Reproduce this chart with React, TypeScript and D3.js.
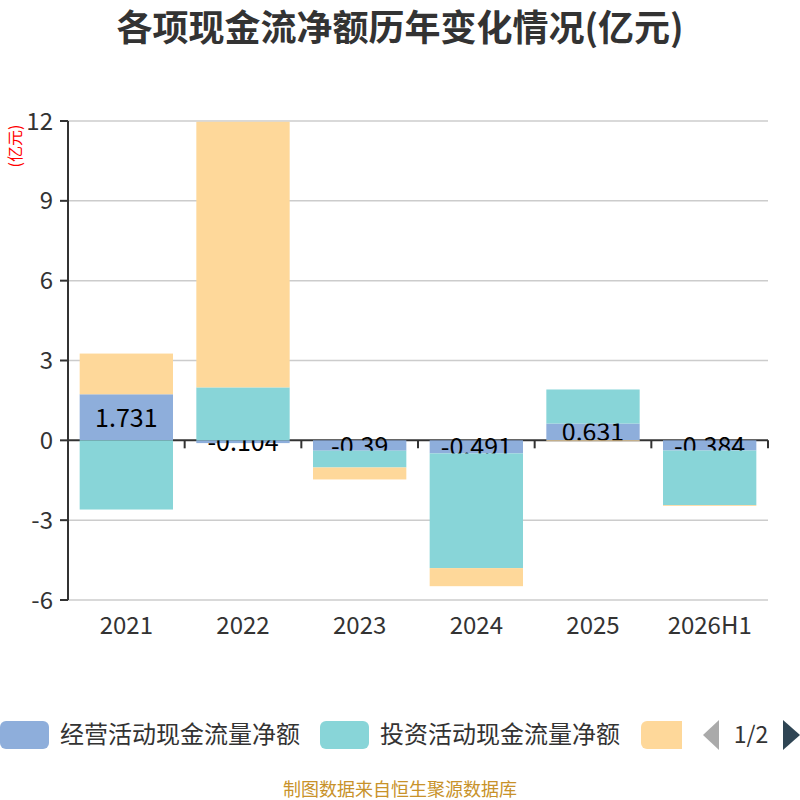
import { scaleLinear, scaleBand } from 'd3'

const YEARS = ['2021', '2022', '2023', '2024', '2025', '2026H1']
const SERIES_NAMES = ['经营活动现金流量净额', '投资活动现金流量净额', '筹资活动现金流量净额']
const OPERATING = [1.731, -0.104, -0.39, -0.491, 0.631, -0.384]
const INVESTING = [-2.6, 1.99, -0.63, -4.31, 1.28, -2.05]
const FINANCING = [1.53, 9.98, -0.45, -0.68, -0.03, -0.02]
const Y_TICKS = [-6, -3, 0, 3, 6, 9, 12]
const COLORS = ['#8eaedb', '#88d5d8', '#fed89a']

const FONT = '"Noto Sans CJK SC", "Noto Sans", sans-serif'

export default function App(): JSX.Element {
  const width = 800
  const height = 800
  const margin = { top: 121, right: 32, bottom: 200, left: 68 }
  const innerWidth = width - margin.left - margin.right
  const innerHeight = height - margin.top - margin.bottom

  const xScale = scaleBand().domain(YEARS).range([0, innerWidth])
  const barWidth = xScale.bandwidth() * 0.8
  const yScale = scaleLinear().domain([-6, 12]).range([innerHeight, 0])

  // stack positive and negative values separately, like echarts does
  const all = [OPERATING, INVESTING, FINANCING]
  const posBase = YEARS.map(() => 0)
  const negBase = YEARS.map(() => 0)
  const segments = all.map((values) =>
    values.map((v, i) => {
      let y0: number, y1: number
      if (v >= 0) {
        y0 = posBase[i]
        y1 = y0 + v
        posBase[i] = y1
      } else {
        y0 = negBase[i]
        y1 = y0 + v
        negBase[i] = y1
      }
      return { year: YEARS[i], v, y0, y1 }
    })
  )

  const barX = (d: string) => xScale(d)! + (xScale.bandwidth() - barWidth) / 2

  const renderBars = (k: number) =>
    segments[k].map((s, i) => {
      const top = yScale(Math.max(s.y0, s.y1))
      const bottom = yScale(Math.min(s.y0, s.y1))
      return (
        <rect
          key={`b${k}-${i}`}
          x={barX(s.year)}
          y={top}
          width={barWidth}
          height={Math.max(bottom - top, 0.8)}
          fill={COLORS[k]}
        />
      )
    })

  return (
    <svg
      width={width}
      height={height}
      style={{ display: 'block', position: 'absolute', left: 0, top: 0 }}
      fontFamily={FONT}
    >
      <rect width={width} height={height} fill='#fff' />

      {/* Title */}
      <text
        x={400}
        y={41}
        textAnchor='middle'
        fontSize={36}
        fontWeight='bold'
        fill='#333'
      >
        各项现金流净额历年变化情况(亿元)
      </text>

      {/* Y axis name */}
      <text
        transform='translate(21, 146) rotate(-90)'
        textAnchor='middle'
        fontSize={16}
        fill='#ff0000'
      >
        (亿元)
      </text>

      <g transform={`translate(${margin.left}, ${margin.top})`}>
        {/* Grid lines + Y ticks */}
        {Y_TICKS.map((t) => (
          <g key={t} transform={`translate(0, ${yScale(t)})`}>
            {t !== 0 && <line x2={innerWidth} stroke='#ccc' strokeWidth={1.5} />}
            <line x1={-8} x2={0} stroke='#333' strokeWidth={2} />
            <text
              x={-15}
              dy='0.36em'
              textAnchor='end'
              fontSize={24}
              fill='#333'
            >
              {t}
            </text>
          </g>
        ))}

        {/* Y axis line */}
        <line y2={innerHeight} stroke='#333' strokeWidth={2} />

        {/* X axis at zero */}
        <line y1={yScale(0)} y2={yScale(0)} x2={innerWidth} stroke='#333' strokeWidth={2} />
        {YEARS.concat(['']).map((d, i) => {
          const x = i < YEARS.length ? xScale(d)! : innerWidth
          return (
            <line
              key={`t${i}`}
              x1={x}
              x2={x}
              y1={yScale(0)}
              y2={yScale(0) + 8}
              stroke='#333'
              strokeWidth={2}
            />
          )
        })}

        {/* X labels */}
        {YEARS.map((d) => (
          <text
            key={d}
            x={xScale(d)! + xScale.bandwidth() / 2}
            y={innerHeight + 34}
            textAnchor='middle'
            fontSize={24}
            fill='#333'
          >
            {d}
          </text>
        ))}

        {/* Operating bars and labels */}
        {renderBars(0)}
        {segments[0].map((s, i) => (
          <text
            key={`l${i}`}
            x={barX(s.year) + barWidth / 2}
            y={(yScale(s.y0) + yScale(s.y1)) / 2}
            dy='0.38em'
            textAnchor='middle'
            fontSize={25}
            fill='#000'
          >
            {s.v}
          </text>
        ))}
        {renderBars(1)}
        {renderBars(2)}
      </g>

      {/* Legend */}
      <g fontSize={24} fill='#333'>
        <rect x={0} y={721} width={49} height={28} rx={6} fill={COLORS[0]} />
        <text x={60} y={743}>{SERIES_NAMES[0]}</text>
        <rect x={320} y={721} width={49} height={28} rx={6} fill={COLORS[1]} />
        <text x={380} y={743}>{SERIES_NAMES[1]}</text>
        <rect x={641} y={721} width={49} height={28} rx={6} fill={COLORS[2]} />
        <rect x={682} y={715} width={60} height={40} fill='#fff' />
        <path d='M703,735 L719,720 L719,750 Z' fill='#aaa' />
        <text x={751} y={743} textAnchor='middle' fontSize={23}>1/2</text>
        <path d='M800,735 L783,720 L783,750 Z' fill='#2f4554' />
      </g>

      {/* Source */}
      <text x={400} y={796} textAnchor='middle' fontSize={18} fill='#c8922a'>
        制图数据来自恒生聚源数据库
      </text>
    </svg>
  )
}
